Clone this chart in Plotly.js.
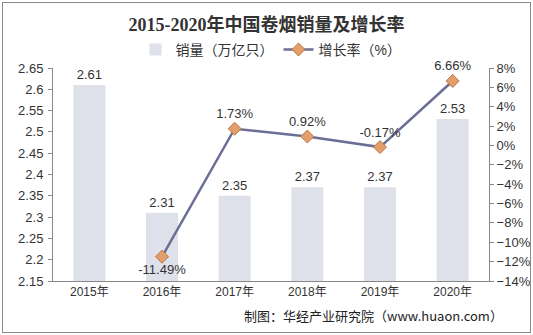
<!DOCTYPE html>
<html><head><meta charset="utf-8">
<script src="https://cdn.plot.ly/plotly-3.0.1.min.js"></script>
<style>
html,body{margin:0;padding:0;background:#fff;}
#wrap{position:relative;width:533px;height:335px;}
#chart{position:absolute;left:0;top:0;width:533px;height:335px;}
#frame{position:absolute;left:2px;top:2px;width:527px;height:329px;border:1px solid #8a8a8a;pointer-events:none;}
</style></head>
<body><div id="wrap"><div id="chart"></div><div id="frame"></div></div>
<script>
const years = ['2015年','2016年','2017年','2018年','2019年','2020年'];
const sales = [2.61, 2.31, 2.35, 2.37, 2.37, 2.53];
const growthYears = ['2016年','2017年','2018年','2019年','2020年'];
const growth = [-11.49, 1.73, 0.92, -0.17, 6.66];
const salesLabels = sales.map(v => v.toFixed(2));
const growthLabels = growth.map(v => v.toFixed(2) + '%');
const growthPos = ['bottom center','top center','top center','top center','top center'];

const F = '"Liberation Sans", Arial, "Noto Sans CJK SC", sans-serif';
const traces = [
  {type:'bar', name:'销量（万亿只）', x:years, y:sales,
   marker:{color:'#dfe1ea'}, width:0.44,
   text:salesLabels, textposition:'outside', cliponaxis:false, constraintext:'none',
   textfont:{family:F, size:13, color:'#333'}, yaxis:'y'},
  {type:'scatter', mode:'lines+markers+text', name:'增长率（%）', x:growthYears, y:growth, yaxis:'y2',
   line:{color:'#6b6f96', width:2.5},
   marker:{symbol:'diamond', size:10, color:'#e39e6b', line:{color:'#b8794a', width:1}},
   text:growthLabels, textposition:growthPos, cliponaxis:false,
   textfont:{family:F, size:13, color:'#333'}}
];
const layout = {
  width:533, height:335,
  margin:{l:53, r:44, t:68, b:54},
  paper_bgcolor:'#fff', plot_bgcolor:'#fff',
  font:{family:F, size:12, color:'#333'},
  title:{text:'<b>2015-2020年中国卷烟销量及增长率</b>', x:0.5, xanchor:'center', y:0.925, yanchor:'middle',
    font:{family:'"Liberation Serif", "Times New Roman", "Noto Sans CJK SC", serif', size:18, color:'#333'}},
  showlegend:true,
  legend:{orientation:'h', x:0.5, xanchor:'center', y:1.085, yanchor:'middle',
    font:{family:F, size:14, color:'#333'}, itemwidth:30, tracegroupgap:0},
  xaxis:{type:'category', showline:true, linecolor:'#888', linewidth:1, ticks:'', showgrid:false,
    tickfont:{family:F, size:12, color:'#333'}, fixedrange:true},
  yaxis:{range:[2.15,2.65], dtick:0.05, tick0:2.15, showgrid:false, zeroline:false,
    showline:true, linecolor:'#888', linewidth:1, ticks:'outside', ticklen:4, tickcolor:'#888',
    tickfont:{family:F, size:13, color:'#333'}, ticklabelstandoff:2},
  yaxis2:{overlaying:'y', side:'right', range:[-14,8], dtick:2, tick0:-14, ticksuffix:'%',
    showgrid:false, zeroline:false, showline:true, linecolor:'#888', linewidth:1,
    ticks:'outside', ticklen:4, tickcolor:'#888', tickfont:{family:F, size:13, color:'#333'}},
  annotations:[
    {xref:'paper', yref:'paper', x:1.037, y:-0.163, xanchor:'right', yanchor:'middle',
     text:'制图：华经产业研究院（www.huaon.com）', showarrow:false,
     font:{family:'"Noto Sans CJK SC", sans-serif', size:13, color:'#222'}}
  ]
};
Plotly.newPlot('chart', traces, layout, {displayModeBar:false, staticPlot:true});
</script></body></html>
